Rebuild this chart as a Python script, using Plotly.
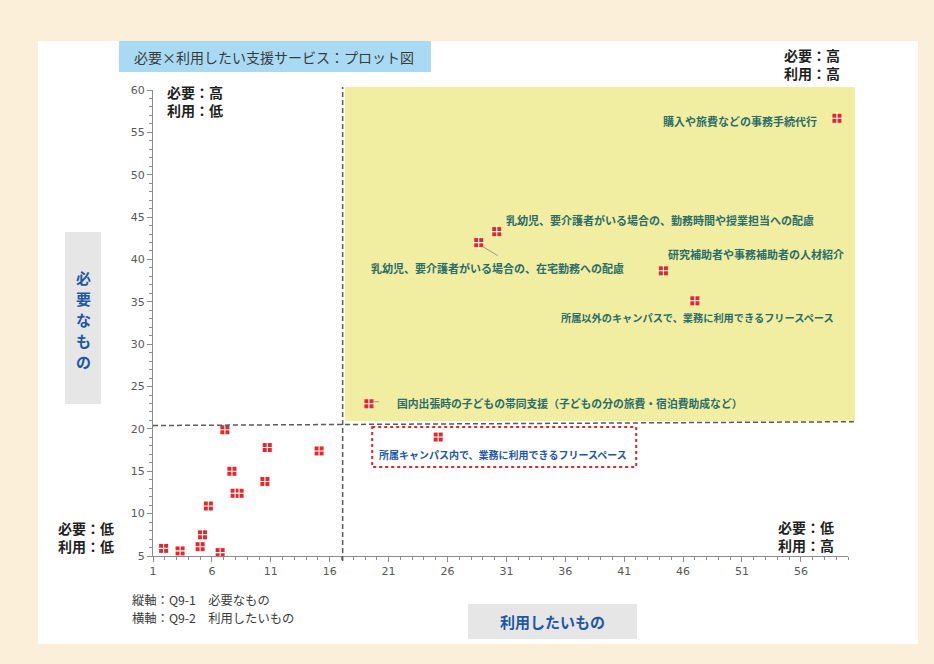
import plotly.graph_objects as go

# 区分の境界（平均値）
need_threshold = 20.4
use_threshold = 17.1

# ラベルなしの項目（利用したいもの, 必要なもの）
use_other = [1.9, 3.3, 5.0, 5.2, 5.7, 6.7, 7.1, 7.7, 7.97, 8.31, 10.5, 10.7, 15.1]
need_other = [5.9, 5.6, 6.1, 7.5, 10.9, 5.4, 19.9, 15.0, 12.4, 12.4, 13.8, 17.8, 17.4]

# ラベル付きの項目
item_names = [
    "購入や旅費などの事務手続代行",
    "乳幼児、要介護者がいる場合の、勤務時間や授業担当への配慮",
    "乳幼児、要介護者がいる場合の、在宅勤務への配慮",
    "研究補助者や事務補助者の人材紹介",
    "所属以外のキャンパスで、業務に利用できるフリースペース",
    "国内出張時の子どもの帯同支援（子どもの分の旅費・宿泊費助成など）",
    "所属キャンパス内で、業務に利用できるフリースペース",
]
use_items = [59.06, 30.18, 28.65, 44.33, 47.0, 19.33, 25.21]
need_items = [56.66, 43.29, 41.99, 38.66, 35.12, 22.97, 19.04]

x_ticks = [1, 6, 11, 16, 21, 26, 31, 36, 41, 46, 51, 56]
y_ticks = [5, 10, 15, 20, 25, 30, 35, 40, 45, 50, 55, 60]

# ---- 表示設定 ----
W, H = 934, 664
M_L, M_R, M_T, M_B = 153, 86, 90, 108
PW, PH = W - M_L - M_R, H - M_T - M_B

JP = "Noto Sans CJK JP"
LABEL_GREEN = "#2B6D68"
LABEL_BLUE = "#1E57A6"
RED = "#E5262B"


def fx(p):
    """ページ上の横位置(px) -> paper座標"""
    return (p - M_L) / PW


def fy(p):
    """ページ上の縦位置(px) -> paper座標"""
    return (M_T + PH - p) / PH


# ラベルの配置（点からのずれ: px, 上が正）と文字サイズ・色
label_shift = [(-97, -3), (163, 12), (19, -25), (93, 17), (3, -17), (201, 1), (65, -17)]
label_size = [11, 11, 11, 11, 10.2, 10.8, 10]
label_color = [LABEL_GREEN] * 6 + [LABEL_BLUE]

fig = go.Figure()

all_use = use_other + use_items
all_need = need_other + need_items

fig.add_trace(go.Scatter(
    x=all_use, y=all_need, mode="markers",
    marker=dict(symbol="square", size=9, color=RED, line=dict(width=0)),
    cliponaxis=False, hoverinfo="skip", showlegend=False,
))
fig.add_trace(go.Scatter(
    x=all_use, y=all_need, mode="markers",
    marker=dict(symbol="cross-thin", size=9, line=dict(color="white", width=1.1)),
    cliponaxis=False, hoverinfo="skip", showlegend=False,
))

shapes = [
    # 白い台紙
    dict(type="rect", xref="paper", yref="paper", x0=fx(38), x1=fx(918), y0=fy(644), y1=fy(41),
         fillcolor="white", line=dict(width=0), layer="below"),
    # タイトル枠
    dict(type="rect", xref="paper", yref="paper", x0=fx(119), x1=fx(431), y0=fy(72), y1=fy(41),
         fillcolor="#A8DAF4", line=dict(width=0), layer="below"),
    # 軸タイトル枠
    dict(type="rect", xref="paper", yref="paper", x0=fx(65), x1=fx(101), y0=fy(404), y1=fy(232),
         fillcolor="#E6E6E6", line=dict(width=0), layer="below"),
    dict(type="rect", xref="paper", yref="paper", x0=fx(468), x1=fx(637), y0=fy(639), y1=fy(604),
         fillcolor="#E6E6E6", line=dict(width=0), layer="below"),
    # 必要：高・利用：高 の領域
    dict(type="rect", xref="paper", yref="paper", x0=fx(345), x1=fx(855), y0=fy(421), y1=fy(87),
         fillcolor="#F1EEA2", line=dict(width=0), layer="below"),
    # 境界線
    dict(type="line", xref="x", yref="paper", x0=use_threshold, x1=use_threshold, y0=fy(561), y1=fy(87),
         line=dict(color="#5A5A5A", width=1.5, dash="5px,3px")),
    dict(type="line", xref="paper", yref="y", x0=0, x1=fx(855), y0=need_threshold, y1=need_threshold + 0.45,
         line=dict(color="#5A5A5A", width=1.5, dash="5px,3px")),
    # 引き出し線
    dict(type="line", xref="x", yref="y", xsizemode="pixel", ysizemode="pixel",
         xanchor=use_items[2], yanchor=need_items[2], x0=4, x1=19, y0=-4, y1=-13,
         line=dict(color="#9A9A86", width=1)),
    dict(type="line", xref="x", yref="y", xsizemode="pixel", ysizemode="pixel",
         xanchor=use_items[5], yanchor=need_items[5], x0=4, x1=10, y0=2, y1=2,
         line=dict(color="#9A9A86", width=1)),
    # 所属キャンパス内 の強調枠
    dict(type="rect", xref="x", yref="y", xsizemode="pixel", ysizemode="pixel",
         xanchor=use_items[6], yanchor=need_items[6], x0=-66, x1=198, y0=10, y1=-30,
         line=dict(color="#E0262B", width=2, dash="dot")),
]

annotations = []
for name, ux, ny, (dx, dy), sz, col in zip(item_names, use_items, need_items,
                                           label_shift, label_size, label_color):
    annotations.append(dict(
        x=ux, y=ny, xref="x", yref="y", text=name, showarrow=False,
        xanchor="center", yanchor="middle", xshift=dx, yshift=dy,
        font=dict(family=JP, size=sz, color=col, weight="bold"),
    ))


def page_text(text, xp, yp, size, color, weight="normal", xanchor="center", align="center", pad=1):
    annotations.append(dict(
        x=fx(xp), y=fy(yp), xref="paper", yref="paper", text=text, showarrow=False,
        xanchor=xanchor, yanchor="middle", align=align, borderpad=pad,
        font=dict(family=JP, size=size, color=color, weight=weight),
    ))


page_text("必要×利用したい支援サービス：プロット図", 132, 57, 14, "#3A3A3A", xanchor="left")
page_text("必要：高<br>利用：低", 195, 101, 14, "#1F1F1F", "bold")
page_text("必要：高<br>利用：高", 812, 64, 14, "#1F1F1F", "bold")
page_text("必要：低<br>利用：低", 86, 537, 14, "#1F1F1F", "bold")
page_text("必要：低<br>利用：高", 806, 536, 14, "#1F1F1F", "bold")
# 縦書きの軸タイトル（1文字ずつ）
for i, ch in enumerate("必要なもの"):
    page_text(ch, 83, 277 + 21.2 * i, 15, LABEL_BLUE, "bold", pad=0)
page_text("利用したいもの", 552.5, 621, 15, LABEL_BLUE, "bold")
page_text("縦軸：Q9-1　必要なもの", 131, 599.5, 12.3, "#3A3A3A", xanchor="left", align="left", pad=0)
page_text("横軸：Q9-2　利用したいもの", 131, 617.5, 12.3, "#3A3A3A", xanchor="left", align="left", pad=0)

axis_common = dict(
    showgrid=False, zeroline=False, showline=True, linecolor="#8C8C8C", linewidth=1,
    ticks="outside", ticklen=5, tickcolor="#8C8C8C", tickwidth=1,
    tickfont=dict(family="DejaVu Sans", size=11, color="#595959"),
    fixedrange=True,
)

fig.update_layout(
    width=W, height=H,
    margin=dict(l=M_L, r=M_R, t=M_T, b=M_B, autoexpand=False),
    paper_bgcolor="#FCEFDA",
    plot_bgcolor="rgba(0,0,0,0)",
    xaxis=dict(range=[1, 60], tickmode="array", tickvals=x_ticks, ticktext=[str(v) for v in x_ticks],
               minor=dict(ticks="outside", ticklen=3, tickcolor="#8C8C8C", dtick=1, tick0=1),
               **axis_common),
    yaxis=dict(range=[5, 60], tickmode="array", tickvals=y_ticks, ticktext=[str(v) for v in y_ticks],
               minor=dict(ticks="outside", ticklen=3, tickcolor="#8C8C8C", dtick=1, tick0=5),
               **axis_common),
    shapes=shapes,
    annotations=annotations,
    showlegend=False,
)

fig.write_html("out.html")
